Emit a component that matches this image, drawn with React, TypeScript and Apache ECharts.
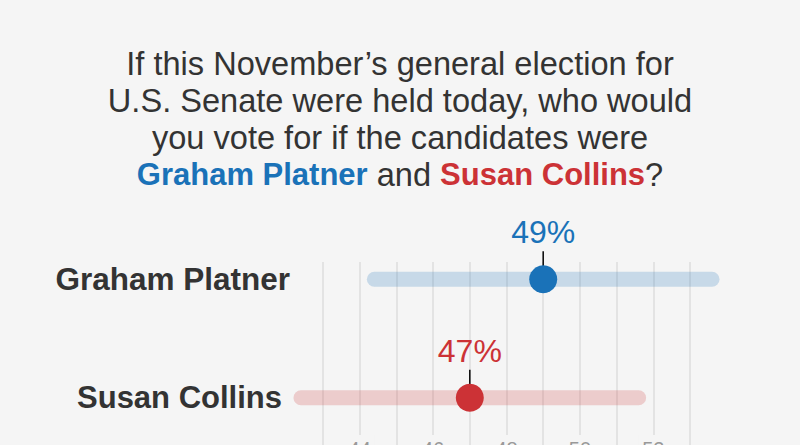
import React, { useEffect, useRef } from "react";
import * as echarts from "echarts";

// ---- data ----
const candidates = ["Graham Platner", "Susan Collins"];
const shares = [49, 47];
const rangeLow = [44.4, 42.4];
const rangeHigh = [53.6, 51.6];
const tickLabels = [44, 46, 48, 50, 52];
const axisMin = 43;
const axisMax = 53;

// ---- styles ----
const BG = "#f5f5f5";
const TEXT = "#333333";
const dotColors = ["#1a72b8", "#cc3236"];
const barColors = ["rgba(26,114,184,0.21)", "rgba(204,50,54,0.21)"];
const FONT = "'Liberation Sans', Arial, Helvetica, sans-serif";

export default function App() {
  const ref = useRef<HTMLDivElement>(null);

  useEffect(() => {
    document.body.style.margin = "0";
    document.body.style.background = BG;
    const chart = echarts.init(ref.current as HTMLDivElement, undefined, { renderer: "svg" });

    const seriesData = candidates.map((_, i) => [i, rangeLow[i], rangeHigh[i], shares[i]]);

    chart.setOption({
      animation: false,
      backgroundColor: BG,
      textStyle: { fontFamily: FONT },
      title: {
        left: "center",
        top: 40,
        text:
          "If this November\u2019s general election for\nU.S. Senate were held today, who would\nyou vote for if the candidates were\n{b|Graham Platner} and {r|Susan Collins}?",
        textStyle: {
          fontFamily: FONT,
          fontSize: 32.6,
          fontWeight: "normal",
          color: TEXT,
          lineHeight: 37,
          rich: {
            b: { fontFamily: FONT, fontSize: 31, fontWeight: "bold", color: dotColors[0], lineHeight: 37 },
            r: { fontFamily: FONT, fontSize: 31, fontWeight: "bold", color: dotColors[1], lineHeight: 37 },
          },
        },
      },
      grid: [
        { left: 323, right: 110, top: 262, bottom: 0 },
        { left: 323, right: 110, top: 220, height: 237 },
      ],
      xAxis: [
        {
          gridIndex: 0,
          type: "value",
          min: axisMin,
          max: axisMax,
          interval: 1,
          axisLine: { show: false },
          axisTick: { show: false },
          splitLine: { show: true, lineStyle: { color: "#dcdcdc", width: 1.5 } },
          axisLabel: {
            inside: true,
            margin: 27,
            formatter: (v: number) => (tickLabels.indexOf(v) >= 0 ? `{l|${v}}` : ""),
            rich: {
              l: {
                fontFamily: FONT,
                fontSize: 20,
                color: "#999999",
                backgroundColor: BG,
                padding: [4, 4, 4, 4],
              },
            },
          },
        },
        {
          gridIndex: 1,
          type: "value",
          min: axisMin,
          max: axisMax,
          show: false,
        },
      ],
      yAxis: [
        { gridIndex: 0, type: "value", show: false },
        {
          gridIndex: 1,
          type: "category",
          inverse: true,
          data: candidates,
          axisLine: { show: false },
          axisTick: { show: false },
          splitLine: { show: false },
          axisLabel: {
            margin: 33,
            formatter: (v: string, idx: number) => (idx === 0 ? `{a|${v}}` : `{c|${v}}`),
            rich: {
              a: { fontFamily: FONT, fontSize: 31.5, fontWeight: "bold", color: TEXT },
              c: { fontFamily: FONT, fontSize: 31, fontWeight: "bold", color: TEXT, padding: [0, 8, 0, 0] },
            },
          },
        },
      ],
      series: [
        {
          type: "custom",
          xAxisIndex: 1,
          yAxisIndex: 1,
          encode: { x: [1, 2, 3], y: 0 },
          data: seriesData,
          renderItem: (params: any, api: any) => {
            const i = api.value(0);
            const lo = api.coord([api.value(1), i]);
            const hi = api.coord([api.value(2), i]);
            const c = api.coord([api.value(3), i]);
            const idx = params.dataIndex;
            return {
              type: "group",
              children: [
                {
                  type: "line",
                  shape: { x1: lo[0], y1: lo[1], x2: hi[0], y2: hi[1] },
                  style: { stroke: barColors[idx], lineWidth: 15, lineCap: "round" },
                },
                {
                  type: "line",
                  shape: { x1: c[0], y1: c[1] - 28, x2: c[0], y2: c[1] - 12 },
                  style: { stroke: "#111111", lineWidth: 1.6 },
                },
                {
                  type: "circle",
                  shape: { cx: c[0], cy: c[1], r: 14 },
                  style: { fill: dotColors[idx] },
                },
                {
                  type: "text",
                  x: c[0],
                  y: c[1] - 47,
                  style: {
                    text: `${api.value(3)}%`,
                    fill: dotColors[idx],
                    fontFamily: FONT,
                    fontSize: 32,
                    align: "center",
                    verticalAlign: "middle",
                  },
                },
              ],
            };
          },
        },
      ],
    });

    return () => chart.dispose();
  }, []);

  return (
    <div style={{ width: 800, height: 445, overflow: "hidden", background: BG }}>
      <div ref={ref} style={{ width: 800, height: 490 }} />
    </div>
  );
}
